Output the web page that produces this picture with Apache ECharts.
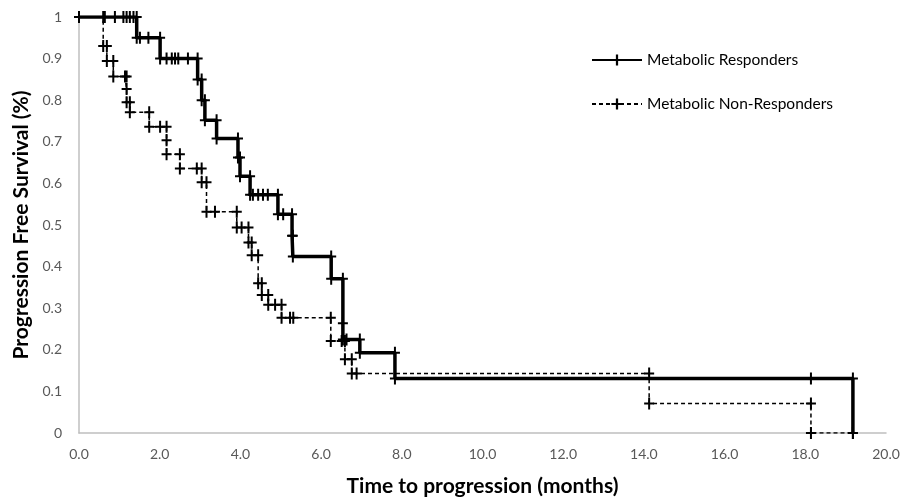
<!DOCTYPE html>
<html>
<head>
<meta charset="utf-8">
<script src="https://cdn.jsdelivr.net/npm/echarts@6/dist/echarts.min.js"></script>
<style>
html,body{margin:0;padding:0;background:#fff;}
#chart{width:912px;height:502px;}
</style>
</head>
<body>
<div id="chart"></div>
<script>
// Metabolic Responders (time in months, survival proportion)
var respTime = [0,0.64,0.89,1.10,1.18,1.26,1.35,1.43,
  1.43,1.51,1.72,2.01,
  2.01,2.17,2.30,2.38,2.46,2.70,2.94,
  2.94,3.04,
  3.04,3.12,
  3.12,3.41,
  3.41,3.94,
  3.94,3.99,
  3.99,4.24,
  4.24,4.31,4.44,4.56,4.68,4.93,
  4.93,5.06,5.28,
  5.28,5.30,
  5.30,6.25,
  6.25,6.54,
  6.54,
  6.54,6.63,6.96,
  6.96,7.83,
  7.83,18.14,19.18,
  19.18];
var respSurv = [1,1,1,1,1,1,1,1,
  0.95,0.95,0.95,0.95,
  0.9,0.9,0.9,0.9,0.9,0.9,0.9,
  0.85,0.85,
  0.80,0.80,
  0.752,0.752,
  0.708,0.708,
  0.662,0.662,
  0.617,0.617,
  0.573,0.573,0.573,0.573,0.573,0.573,
  0.526,0.526,0.526,
  0.474,0.474,
  0.424,0.424,
  0.371,0.371,
  0.264,
  0.225,0.225,0.225,
  0.193,0.193,
  0.131,0.131,0.131,
  0];

// Metabolic Non-Responders
var nonTime = [0,0.60,0.60,0.69,0.69,0.85,0.85,1.14,1.18,1.18,1.18,1.26,1.26,1.74,1.74,2.01,2.17,2.17,2.17,2.50,2.50,2.92,3.04,3.04,3.16,3.16,3.37,3.91,3.91,4.03,4.20,4.20,4.28,4.28,4.44,4.44,4.53,4.53,4.69,4.69,4.86,5.02,5.02,5.23,5.31,6.24,6.24,6.51,6.59,6.59,6.76,6.76,6.88,14.13,14.13,18.14,18.14,19.18];
var nonSurv = [1,1,0.93,0.93,0.894,0.894,0.857,0.857,0.857,0.827,0.795,0.795,0.771,0.771,0.736,0.736,0.736,0.704,0.67,0.67,0.636,0.636,0.636,0.603,0.603,0.532,0.532,0.532,0.494,0.494,0.494,0.458,0.458,0.427,0.427,0.36,0.36,0.332,0.332,0.308,0.308,0.308,0.277,0.277,0.277,0.277,0.221,0.221,0.221,0.177,0.177,0.143,0.143,0.143,0.071,0.071,0,0];

var seriesNames = ['Metabolic Responders','Metabolic Non-Responders'];
var xTickMax = 20, xTickStep = 2;
var yTickMax = 1, yTickStep = 0.1;

function pairs(t, s){ var out=[]; for(var i=0;i<t.length;i++){ out.push([t[i], s[i]]); } return out; }

var plus = 'path://M4,0L6,0L6,5L10,5L10,7L6,7L6,12L4,12L4,7L0,7L0,5L4,5Z';
var fontFam = 'Lato, "Open Sans", "Liberation Sans", sans-serif';

var chart = echarts.init(document.getElementById('chart'), null, {renderer:'canvas'});
chart.setOption({
  animation:false,
  backgroundColor:'#ffffff',
  grid:{left:79, right:26, top:17, bottom:64, containLabel:false},
  legend:{
    orient:'vertical', left:586, top:47, itemGap:28,
    itemWidth:50, itemHeight:14,
    textStyle:{fontFamily:fontFam, fontSize:15.5, color:'#000'},
    data:seriesNames
  },
  xAxis:{
    type:'value', min:0, max:xTickMax, interval:xTickStep,
    name:'Time to progression (months)', nameLocation:'middle', nameGap:43,
    nameTextStyle:{fontFamily:fontFam, fontSize:21, fontWeight:'bold', color:'#000'},
    axisLine:{show:true, lineStyle:{color:'#bfbfbf', width:1.5}},
    axisTick:{show:false},
    splitLine:{show:false},
    axisLabel:{margin:14, fontFamily:fontFam, fontSize:14, color:'#595959', formatter:function(v){return v.toFixed(1);}}
  },
  yAxis:{
    type:'value', min:0, max:yTickMax, interval:yTickStep,
    name:'Progression Free Survival (%)', nameLocation:'middle', nameGap:45, nameRotate:90,
    nameTextStyle:{fontFamily:fontFam, fontSize:21, fontWeight:'bold', color:'#000'},
    axisLine:{show:true, lineStyle:{color:'#bfbfbf', width:1.5}},
    axisTick:{show:false},
    splitLine:{show:false},
    axisLabel:{margin:17, fontFamily:fontFam, fontSize:14, color:'#595959', formatter:function(v){
      if (Math.abs(v-1)<1e-9) return '1';
      if (Math.abs(v)<1e-9) return '0';
      return v.toFixed(1);
    }}
  },
  series:[
    {
      name:seriesNames[0], type:'line', data:pairs(respTime, respSurv),
      symbol:plus, symbolSize:[10,12], showAllSymbol:true,
      lineStyle:{color:'#000', width:3.5, type:'solid'},
      itemStyle:{color:'#000', borderWidth:0},
      z:3
    },
    {
      name:seriesNames[1], type:'line', data:pairs(nonTime, nonSurv),
      symbol:plus, symbolSize:[10,12], showAllSymbol:true,
      lineStyle:{color:'#000', width:1.5, type:[4,3]},
      itemStyle:{color:'#000', borderWidth:0},
      z:2
    }
  ]
});
</script>
</body>
</html>
